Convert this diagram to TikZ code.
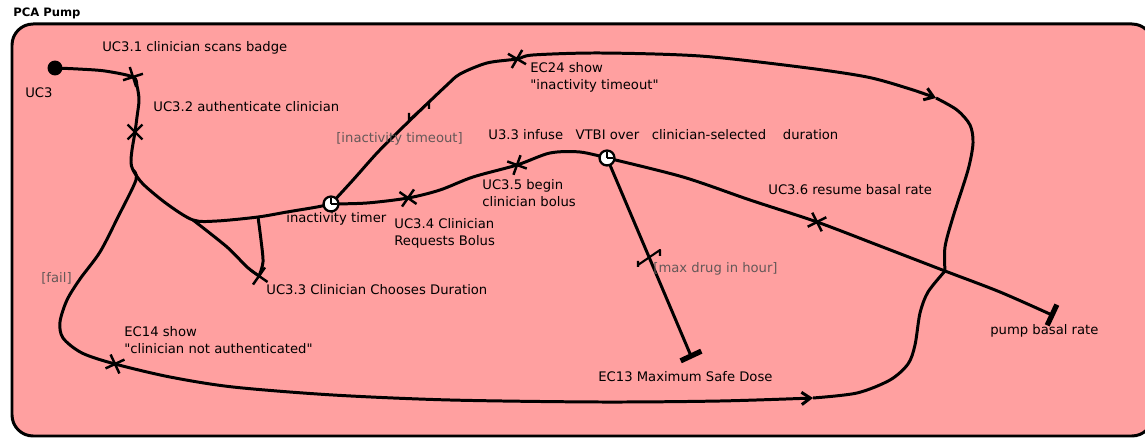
\documentclass[tikz,border=0pt]{standalone}
\usepackage{fontspec}
\setmainfont{DejaVu Sans}[Ligatures=TeXOff]
\usetikzlibrary{arrows.meta,shapes.misc}
\definecolor{pumppink}{RGB}{255,160,160}
\definecolor{condgray}{RGB}{100,88,88}
\pgfdeclarelayer{frame}
\pgfdeclarelayer{edges}
\pgfsetlayers{frame,edges,main}

\begin{document}
\begin{tikzpicture}[x=0.02cm,y=-0.02cm]
\tikzstyle{every node}+=[inner sep=0pt,font=\fontsize{7.5}{9.9}\selectfont]
\tikzstyle{lbl}=[anchor=base west,align=left]
\tikzstyle{cond}=[lbl,text=condgray]
\tikzstyle{resp}=[cross out,draw,line width=1.4pt,minimum size=7pt]
\tikzstyle{timer}=[circle,draw,fill=white,line width=1.3pt,minimum size=8.5pt,
  path picture={\draw[line width=1pt] (path picture bounding box.center) -- ++(0,-5.5)
    (path picture bounding box.center) -- ++(5.5,0);}]
\tikzstyle{startpt}=[circle,fill=black,minimum size=8.5pt]
\tikzstyle{endbar}=[rectangle,fill=black,minimum width=13pt,minimum height=3pt]
\tikzstyle{ucm}=[line width=1.7pt,line join=round]
\tikzstyle{flow}=[-{Straight Barb[length=5pt,width=7pt]}]
\useasboundingbox (0,0) rectangle (1145,438);
% component
\begin{pgfonlayer}{frame}
\draw[line width=1.7pt,fill=pumppink,rounded corners=12pt] (12,24) rectangle (1153,436);
\end{pgfonlayer}
\node[font=\bfseries\fontsize{6.6}{8}\selectfont,anchor=base west] (title) at (13,17) {PCA Pump};
% start and responsibilities
\node[startpt] (uc3) at (55,68) {};
\node[lbl] (uc3lbl) at (25,98) {UC3};
\node[resp,rotate=-27] (uc31) at (133,77) {};
\node[lbl] (uc31lbl) at (102,52) {UC3.1 clinician scans badge};
\node[resp] (uc32) at (135,132) {};
\node[lbl] (uc32lbl) at (153,112) {UC3.2 authenticate clinician};
\coordinate (fork1) at (133,170);
\coordinate (fork2) at (193,220);
\coordinate (join1) at (258,217);
\node[resp,rotate=10] (uc33) at (259,276) {};
\node[lbl] (uc33lbl) at (266,295) {UC3.3 Clinician Chooses Duration};
\node[timer] (t1) at (331,204) {};
\node[lbl] (t1lbl) at (286,223) {inactivity timer};
\node[resp,rotate=10] (uc34) at (408,198) {};
\node[lbl] (uc34lbl) at (394,246) {UC3.4 Clinician\\Requests Bolus};
\node[resp,rotate=25] (uc35) at (517,165) {};
\node[lbl] (uc35lbl) at (482,207) {UC3.5 begin\\clinician bolus};
\node[timer] (t2) at (607,158) {};
\node[lbl] (t2lbl) at (488,140) {U3.3 infuse~~~VTBI over~~~clinician-selected~~~~duration};
\node[resp,rotate=15] (ec24) at (517,59) {};
\node[lbl] (ec24lbl) at (530,90) {EC24 show\\"inactivity timeout"};
\node[cond] (tolbl) at (336,143) {[inactivity timeout]};
\node[resp,rotate=-18] (uc36) at (817,222) {};
\node[lbl] (uc36lbl) at (768,195) {UC3.6 resume basal rate};
\node[endbar,rotate=25] (ec13) at (691,356) {};
\node[lbl] (ec13lbl) at (598,381) {EC13 Maximum Safe Dose};
\node[cond] (maxlbl) at (653,273) {[max drug in hour]};
\coordinate (merge) at (945,271);
\node[endbar,rotate=65] (basal) at (1052,315) {};
\node[lbl] (basallbl) at (990,335) {pump basal rate};
\node[cond] (faillbl) at (41,283) {[fail]};
\node[resp,rotate=-20] (ec14) at (115,364) {};
\node[lbl] (ec14lbl) at (124,354) {EC14 show\\"clinician not authenticated"};
\coordinate (arr1) at (936,98);
\coordinate (arr2) at (813,398);
% paths
\begin{pgfonlayer}{edges}
\draw[ucm] plot[smooth] coordinates {(uc3.center) (78,69) (105,71) (uc31.center) (137,86)
  (139,100) (137,117) (uc32.center) (132,150) (131,162) (fork1) (143,184) (167,204) (fork2)
  (217,221) (join1) (287,212) (317,207) (t1.center)};
\draw[ucm] plot[smooth] coordinates {(fork2) (227,247) (247,267) (uc33.center)};
\draw[ucm] plot[smooth] coordinates {(uc33.center) (263,262) (261,240) (join1)};
\draw[ucm,flow] plot[smooth] coordinates {(fork1) (136,180) (118,217) (100,252) (80,279)
  (67,300) (60,322) (63,338) (82,353) (ec14.center) (170,377) (233,387) (333,395)
  (450,400) (600,402) (720,401) (arr2)};
\draw[ucm] plot[smooth] coordinates {(arr2) (857,393) (890,380) (908,364) (915,345)
  (920,313) (928,292) (merge)};
\draw[ucm] plot[smooth] coordinates {(t1.center) (367,203) (uc34.center) (440,190)
  (473,177) (uc35.center) (550,153) (580,152) (t2.center)};
\draw[ucm,flow] plot[smooth] coordinates {(t1.center) (353,180) (377,153) (400,130)
  (429,102) (447,85) (460,74) (487,63) (ec24.center) (533,55) (600,53) (700,56)
  (800,67) (867,77) (910,89) (arr1)};
\draw[ucm] plot[smooth] coordinates {(arr1) (957,110) (970,125) (973,143) (968,170)
  (953,217) (945,247) (merge)};
\draw[ucm] plot[smooth] coordinates {(t2.center) (683,177) (750,200) (uc36.center)
  (880,246) (merge) (1000,292) (basal.center)};
\draw[ucm] (t2.center) -- (ec13.center);
% timeout marks
\draw[ucm,line width=1.2pt] (409,113) -- (409,120) -- (429,102) -- (429,109);
\draw[ucm,line width=1.2pt] (638,261) -- (638,267) (638,265) -- (660,250) -- (660,256);
\end{pgfonlayer}
\end{tikzpicture}
\end{document}
